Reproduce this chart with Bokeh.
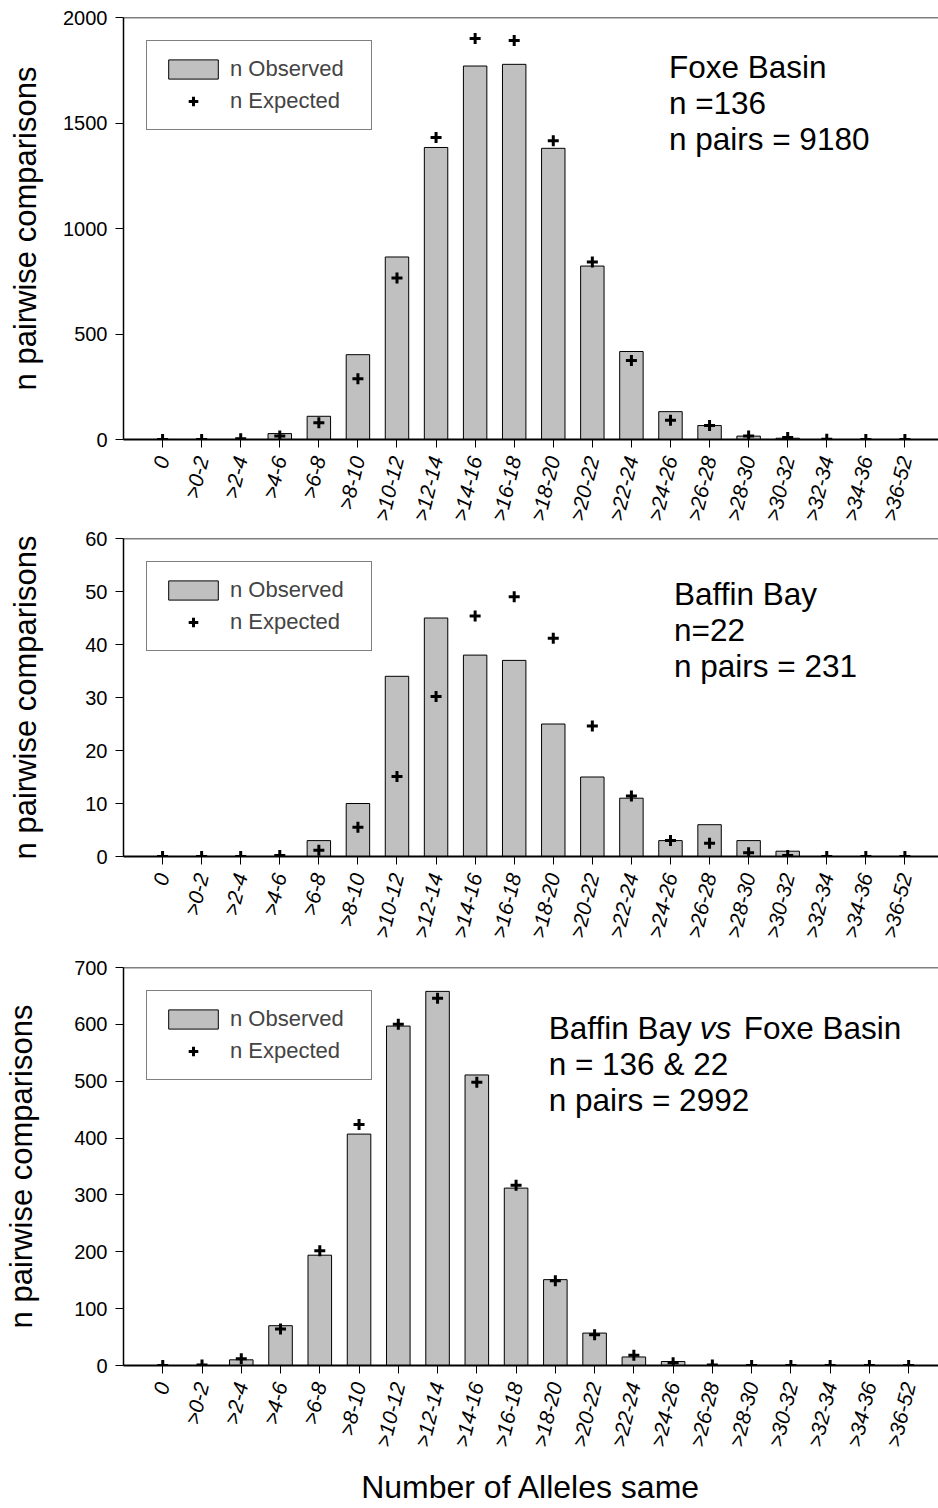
from bokeh.plotting import figure
from bokeh.layouts import column
from bokeh.models import Range1d, FixedTicker, Label, Span, Legend, LegendItem, ColumnDataSource
from bokeh.embed import file_html
from bokeh.resources import INLINE

categories = ["0", ">0-2", ">2-4", ">4-6", ">6-8", ">8-10", ">10-12", ">12-14", ">14-16",
              ">16-18", ">18-20", ">20-22", ">22-24", ">24-26", ">26-28", ">28-30",
              ">30-32", ">32-34", ">34-36", ">36-52"]

foxe_observed = [0, 0, 0, 28, 110, 402, 865, 1384, 1770, 1778, 1380, 822, 417, 132, 66, 16, 6, 0, 0, 0]
foxe_expected = [0, 0, 3, 16, 79, 288, 765, 1431, 1901, 1891, 1416, 841, 375, 91, 66, 16, 9, 1, 0, 0]

baffin_observed = [0, 0, 0, 0, 3, 10, 34, 45, 38, 37, 25, 15, 11, 3, 6, 3, 1, 0, 0, 0]
baffin_expected = [0, 0, 0, 0.2, 1.2, 5.5, 15.1, 30.2, 45.4, 49.0, 41.2, 24.6, 11.4, 3.0, 2.5, 0.7, 0.2, 0, 0, 0]

between_observed = [0, 0, 10, 70, 194, 407, 597, 658, 511, 312, 151, 57, 15, 7, 0, 0, 0, 0, 0, 0]
between_expected = [0, 1, 12, 64, 202, 424, 600, 646, 498, 317, 149, 54, 18, 5, 1, 0, 0, 0, 0, 0]

y_title = "n pairwise comparisons"
x_title = "Number of Alleles same"

FONT = "Liberation Sans"


def make_panel(obs, exp, ymax, yint, height, b_left, b_top, b_bottom, x_end,
               ytitle_standoff, texts, xlabel=None, xlabel_standoff=14):
    p = figure(width=938, height=height, x_range=Range1d(-1, x_end), y_range=Range1d(0, ymax),
               output_backend="svg", toolbar_location=None, title=None,
               min_border_left=b_left, min_border_right=0,
               min_border_top=b_top, min_border_bottom=b_bottom)
    p.outline_line_color = None
    p.grid.visible = False
    p.background_fill_color = "white"
    p.border_fill_color = "white"

    xs = list(range(len(categories)))
    src = ColumnDataSource(dict(x=xs, obs=obs, exp=exp))
    bars = p.vbar(x="x", top="obs", width=0.6, source=src, fill_color="#c0c0c0",
                  line_color="black", line_width=1)
    pts = p.scatter(x="x", y="exp", source=src, marker="cross", size=11, line_width=3,
                    line_color="black")

    p.add_layout(Span(location=ymax, dimension="width", line_color="black", line_width=1.5))

    # x axis
    xa = p.xaxis[0]
    xa.ticker = FixedTicker(ticks=xs)
    xa.major_label_overrides = {i: c for i, c in enumerate(categories)}
    xa.major_label_orientation = 1.33
    xa.major_label_text_font = FONT
    xa.major_label_text_font_size = "21px"
    xa.major_label_text_font_style = "italic"
    xa.major_label_text_color = "black"
    xa.major_label_standoff = 9
    xa.major_tick_out = 8
    xa.major_tick_in = 0
    xa.minor_tick_line_color = None
    xa.axis_line_width = 2
    xa.axis_line_color = "black"
    xa.major_tick_line_color = "black"
    if xlabel:
        xa.axis_label = xlabel
        xa.axis_label_text_font = FONT
        xa.axis_label_text_font_size = "32px"
        xa.axis_label_text_font_style = "normal"
        xa.axis_label_text_color = "black"
        xa.axis_label_standoff = xlabel_standoff

    # y axis
    ya = p.yaxis[0]
    ya.ticker = FixedTicker(ticks=list(range(0, ymax + 1, yint)))
    ya.major_label_text_font = FONT
    ya.major_label_text_font_size = "20px"
    ya.major_label_text_color = "black"
    ya.major_label_standoff = 8
    ya.major_tick_out = 8
    ya.major_tick_in = 0
    ya.minor_tick_line_color = None
    ya.axis_line_width = 1.5
    ya.axis_line_color = "black"
    ya.major_tick_line_color = "black"
    ya.axis_label = y_title
    ya.axis_label_text_font = FONT
    ya.axis_label_text_font_size = "31px"
    ya.axis_label_text_font_style = "normal"
    ya.axis_label_text_color = "black"
    ya.axis_label_standoff = ytitle_standoff

    legend = Legend(items=[LegendItem(label="n Observed", renderers=[bars]),
                           LegendItem(label="n Expected", renderers=[pts])],
                    location="top_left", margin=23, padding=15, spacing=6,
                    glyph_width=62, glyph_height=24, label_height=24, label_width=126,
                    label_standoff=6, label_text_font=FONT, label_text_font_size="22px",
                    border_line_color="black", border_line_width=1,
                    background_fill_color="white", background_fill_alpha=1)
    p.add_layout(legend)

    for (tx, ty, txt, style, xoff) in texts:
        p.add_layout(Label(x=tx, y=ty, text=txt, x_offset=xoff, text_font=FONT,
                           text_font_size="31.5px", text_font_style=style,
                           text_color="black", text_align="left",
                           text_baseline="alphabetic"))
    return p


p1 = make_panel(foxe_observed, foxe_expected, 2000, 500, 529, 119, 17, 88, 19.86, 17,
                [(12.96, 1766, "Foxe Basin", "normal", 0),
                 (12.96, 1594, "n =136", "normal", 0),
                 (12.96, 1422, "n pairs = 9180", "normal", 0)])
p2 = make_panel(baffin_observed, baffin_expected, 60, 10, 429, 119, 9, 102, 19.86, 39,
                [(13.09, 49.6, "Baffin Bay", "normal", 0),
                 (13.09, 42.8, "n=22", "normal", 0),
                 (13.09, 35.9, "n pairs = 231", "normal", 0)])
p3 = make_panel(between_observed, between_expected, 700, 100, 550, 123, 9, 143, 19.76, 32,
                [(9.83, 594, "Baffin Bay ", "normal", 0),
                 (9.83, 594, "vs", "italic", 151),
                 (9.83, 594, "Foxe Basin", "normal", 195),
                 (9.83, 530.6, "n = 136 & 22", "normal", 0),
                 (9.83, 467.3, "n pairs = 2992", "normal", 0)],
                xlabel=x_title, xlabel_standoff=14)

layout = column(p1, p2, p3, spacing=0)
open("out.html", "w").write(file_html(layout, INLINE))
